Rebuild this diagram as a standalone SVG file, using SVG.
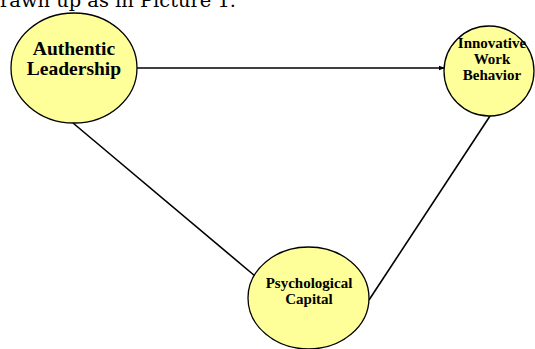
<svg xmlns="http://www.w3.org/2000/svg" width="535" height="349" viewBox="0 0 535 349">
<style>
.node{fill:#ffff99;stroke:#000;stroke-width:1.3}
.lbl{font-family:"Liberation Serif","Times New Roman",serif;font-weight:bold;fill:#000;text-anchor:middle}
.edge{stroke:#000;stroke-width:1.6;fill:none}
</style>
<defs>
<marker id="arr" markerWidth="6" markerHeight="6" refX="5" refY="3" orient="auto" markerUnits="userSpaceOnUse">
<path d="M0,0.8 L6,3 L0,5.2 z" fill="#000"/>
</marker>
</defs>
<text x="0" y="7" font-family="'DejaVu Serif','Liberation Serif',serif" font-size="19" textLength="236" lengthAdjust="spacingAndGlyphs">rawn up as in Picture 1.</text>
<g id="connectors">
<line class="edge" x1="137" y1="68" x2="444" y2="68" marker-end="url(#arr)"/>
<line class="edge" x1="73" y1="123" x2="255" y2="276"/>
<line class="edge" x1="369" y1="300" x2="490" y2="116"/>
</g>
<g id="authentic">
<ellipse class="node" cx="74" cy="68" rx="63" ry="55"/>
<text class="lbl" x="74" y="55" font-size="19.5">Authentic</text>
<text class="lbl" x="74" y="75" font-size="19.5">Leadership</text>
</g>
<g id="innovative">
<ellipse class="node" cx="489" cy="71" rx="45" ry="45"/>
<text class="lbl" x="492" y="48" font-size="15">Innovative</text>
<text class="lbl" x="492" y="64" font-size="15">Work</text>
<text class="lbl" x="492" y="80" font-size="15">Behavior</text>
</g>
<g id="psycap">
<ellipse class="node" cx="308.5" cy="298" rx="60.5" ry="51"/>
<text class="lbl" x="309" y="288" font-size="15">Psychological</text>
<text class="lbl" x="309" y="304" font-size="15">Capital</text>
</g>
</svg>
